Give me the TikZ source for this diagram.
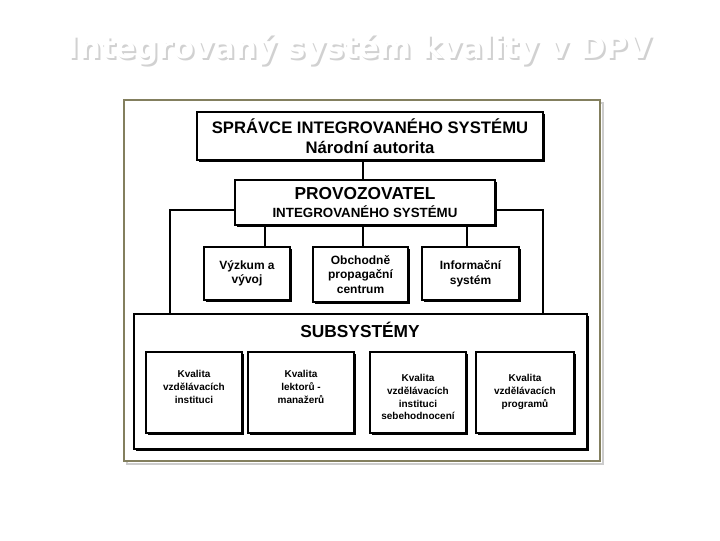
\documentclass[tikz,border=0pt]{standalone}
\usepackage{fontspec}
\setmainfont{Liberation Sans}
\newfontfamily\titlefont{DejaVu Sans}
\usetikzlibrary{shadows}
\begin{document}
\begin{tikzpicture}[x=0.75pt,y=-0.75pt,
  bx/.style={draw=black,line width=1.5pt,fill=white,align=center,inner sep=0pt,
    drop shadow={shadow xshift=1.2pt,shadow yshift=-1.2pt,fill=black,opacity=1}},
  ln/.style={line width=2pt},
  tx/.style={font=\bfseries\fontsize{7.5}{9.5}\selectfont,align=center,anchor=north}]
\useasboundingbox (0,0) rectangle (720,540);
\fill[white] (0,0) rectangle (720,540);
% title
\node[text=black!18,font=\titlefont\bfseries\fontsize{23}{26}\selectfont] at (362,52) {Integrovaný systém kvality v DPV};
\node[text=white,font=\titlefont\bfseries\fontsize{23}{26}\selectfont] (title) at (360,50) {Integrovaný systém kvality v DPV};
% frame
\draw[draw=black!20,line width=2pt] (127,103) rectangle (603,464);
\draw[draw=black!60!olive!70,line width=2pt,fill=white] (124,100) rectangle (600,461);
% connectors
\coordinate (lc) at (170,210); \coordinate (rc) at (543,210);
\draw[ln] (235,210) -- (lc) -- (170,315);
\draw[ln] (495,210) -- (rc) -- (543,315);
\node[bx,minimum width=346*0.75pt,minimum height=48*0.75pt,font=\bfseries\fontsize{12.5}{15}\selectfont] (top) at (370,136) {SPRÁVCE INTEGROVANÉHO SYSTÉMU\\Národní autorita};
\node[bx,minimum width=260*0.75pt,minimum height=45*0.75pt] (prov) at (365,202.5) {{\bfseries\fontsize{13}{15}\selectfont PROVOZOVATEL}\\[1pt]{\bfseries\fontsize{10}{12}\selectfont INTEGROVANÉHO SYSTÉMU}};
\draw[ln] (363,160) -- (363,180);
\node[bx,minimum width=86*0.75pt,minimum height=53*0.75pt,font=\bfseries\fontsize{9}{11}\selectfont] (vyz) at (247,273.5) {Výzkum a\\vývoj};
\node[bx,minimum width=95*0.75pt,minimum height=55*0.75pt,font=\bfseries\fontsize{9}{11}\selectfont] (obch) at (360.5,274.5) {Obchodně\\propagační\\centrum};
\node[bx,minimum width=97*0.75pt,minimum height=53*0.75pt,font=\bfseries\fontsize{9}{11}\selectfont] (inf) at (470.5,273.5) {Informační\\systém};
\draw[ln] (265,225) -- (265,247);
\draw[ln] (363,225) -- (363,247);
\draw[ln] (467,225) -- (467,247);
\node[bx,minimum width=453*0.75pt,minimum height=135*0.75pt] (sub) at (360.5,381.5) {};
\node[font=\bfseries\fontsize{13}{15}\selectfont] (subt) at (360,330) {SUBSYSTÉMY};
\tikzset{sb/.style={bx,minimum height=81*0.75pt}}
\node[sb,minimum width=96*0.75pt] (s1) at (194,392.5) {};
\node[tx] (t1) at (194,366) {Kvalita\\vzdělávacích\\instituci};
\node[sb,minimum width=106*0.75pt] (s2) at (301,392.5) {};
\node[tx] (t2) at (301,366) {Kvalita\\lektorů -\\manažerů};
\node[sb,minimum width=96*0.75pt] (s3) at (418,392.5) {};
\node[tx] (t3) at (418,370) {Kvalita\\vzdělávacích\\instituci\\sebehodnocení};
\node[sb,minimum width=98*0.75pt] (s4) at (525,392.5) {};
\node[tx] (t4) at (525,370) {Kvalita\\vzdělávacích\\programů};
\end{tikzpicture}
\end{document}
